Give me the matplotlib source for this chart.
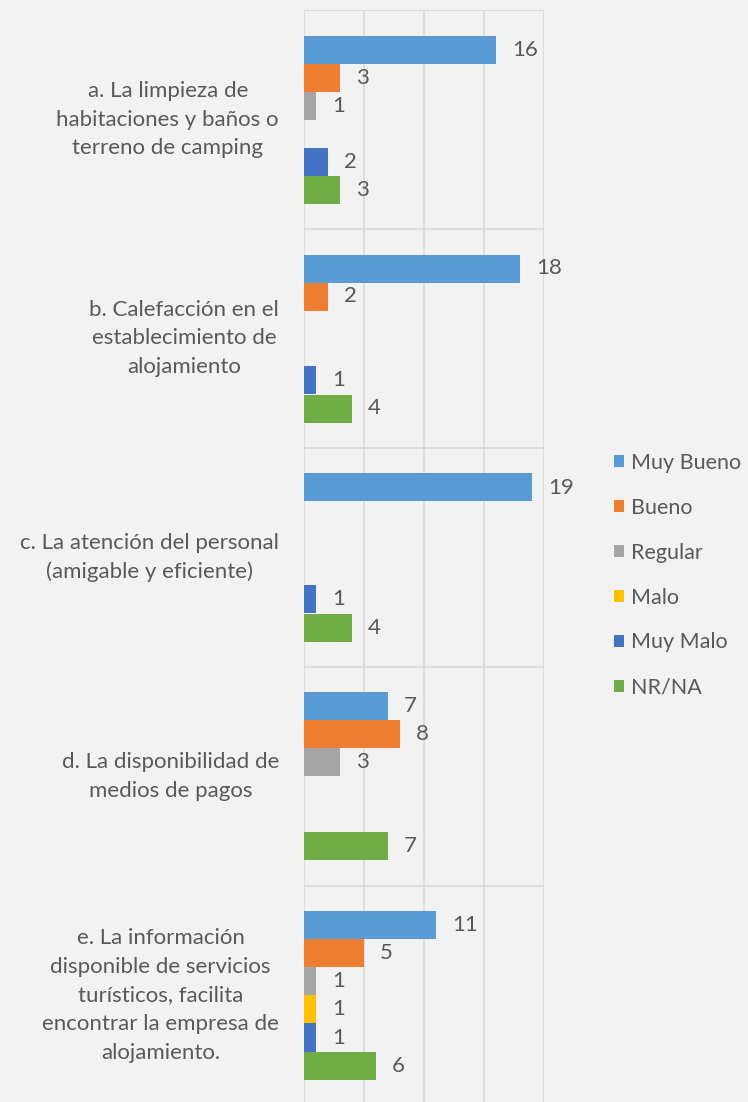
import matplotlib
matplotlib.use("Agg")
import matplotlib.pyplot as plt
from matplotlib.patches import Patch
import numpy as np

categories = [
    "a. La limpieza de\nhabitaciones y baños o\nterreno de camping",
    "b. Calefacción en el\nestablecimiento de\nalojamiento",
    "c. La atención del personal\n(amigable y eficiente)",
    "d. La disponibilidad de\nmedios de pagos",
    "e. La información\ndisponible de servicios\nturísticos, facilita\nencontrar la empresa de\nalojamiento.",
]
series = ["Muy Bueno", "Bueno", "Regular", "Malo", "Muy Malo", "NR/NA"]
muy_bueno = [16, 18, 19, 7, 11]
bueno = [3, 2, 0, 8, 5]
regular = [1, 0, 0, 3, 1]
malo = [0, 0, 0, 0, 1]
muy_malo = [2, 1, 1, 0, 1]
nr_na = [3, 4, 4, 7, 6]
values = [muy_bueno, bueno, regular, malo, muy_malo, nr_na]
colors = ["#5b9bd5", "#ed7d31", "#a5a5a5", "#ffc000", "#4472c4", "#70ad47"]

W, H = 748, 1102
plt.rcParams['font.family'] = ['Lato', 'DejaVu Sans']
fig = plt.figure(figsize=(W / 100, H / 100), dpi=100)
fig.patch.set_facecolor("#f2f2f2")

left, right, top = 304, 544, 10
cat_h = 219.0
ax = fig.add_axes([left / W, 0, (right - left) / W, (H - top) / H])
ax.set_facecolor("#f2f2f2")
ax.set_xlim(0, 20)
ylim_bottom = -0.5 + (H - top) / cat_h
ax.set_ylim(ylim_bottom, -0.5)

FS = 16
bw = 28 / cat_h
txt_color = "#595959"
y = np.arange(len(categories))
px_per_unit = (right - left) / 20
for i, (s, vals, c) in enumerate(zip(series, values, colors)):
    pos = y + (i - 2.5) * bw
    ax.barh(pos, vals, height=bw, color=c, label=s, zorder=3)
    for p, v in zip(pos, vals):
        if v > 0:
            ax.text(v + 16 / px_per_unit, p, str(v), va="center", ha="left",
                    fontsize=FS, color=txt_color, zorder=4)

grid_c = "#d9d9d9"
for xv in [0, 5, 10, 15, 20]:
    ax.axvline(xv, color=grid_c, lw=1.2, zorder=1)
for k in range(len(categories) + 1):
    ax.axhline(k - 0.5, color=grid_c, lw=1.2, zorder=1)

ax.set_xticks([])
ax.set_yticks([])
for sp in ax.spines.values():
    sp.set_visible(False)

for k, lab in enumerate(categories):
    yc = top + cat_h * (k + 0.5)
    fig.text(279 / W, 1 - yc / H, lab, ha="right", va="center",
             multialignment="center", fontsize=FS, color=txt_color,
             linespacing=1.55)

handles = [Patch(facecolor=c, edgecolor="none") for c in colors]
leg = fig.legend(handles, series, loc="upper left",
                 bbox_to_anchor=(605 / W, 1 - 444 / H), frameon=False,
                 fontsize=15.5, labelcolor=txt_color, handlelength=0.5,
                 handleheight=0.5, handletextpad=0.3, labelspacing=1.16,
                 borderaxespad=0)

fig.savefig("out.png", dpi=100, facecolor=fig.get_facecolor())
